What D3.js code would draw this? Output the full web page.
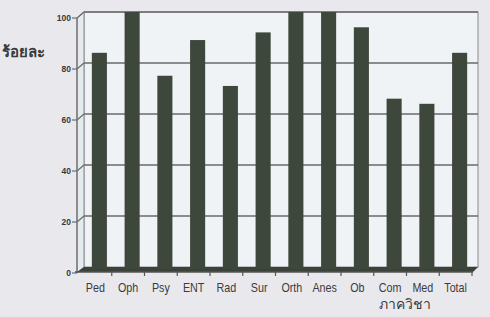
<!DOCTYPE html>
<html>
<head>
<meta charset="utf-8">
<script src="https://cdn.jsdelivr.net/npm/d3@7"></script>
<style>
  body { margin: 0; background: #e9e9ed; }
  svg { display: block; }
</style>
</head>
<body>
<div id="chart"></div>
<script>
var departments = ["Ped", "Oph", "Psy", "ENT", "Rad", "Sur", "Orth", "Anes", "Ob", "Com", "Med", "Total"];
var percents = [84, 100, 75, 89, 71, 92, 100, 100, 94, 66, 64, 84];
var yTicks = [0, 20, 40, 60, 80, 100];
var yTitle = "ร้อยละ";
var xTitle = "ภาควิชา";

var width = 490, height = 317;
// back wall box, and the offset of the front plane
var wall = {left: 84, right: 478, top: 12, bottom: 267};
var dx = -7, dy = 6;

var svg = d3.select("#chart").append("svg")
    .attr("width", width)
    .attr("height", height);

svg.append("rect")
    .attr("width", width).attr("height", height)
    .attr("fill", "#e9e9ed");

var x = d3.scaleBand()
    .domain(departments)
    .range([wall.left - 1, wall.right - 2])
    .paddingInner(0.54)
    .paddingOuter(0.27);

var y = d3.scaleLinear()
    .domain([0, 100])
    .range([wall.bottom, wall.top]);

// back wall
svg.append("rect")
    .attr("x", wall.left).attr("y", wall.top)
    .attr("width", wall.right - wall.left)
    .attr("height", wall.bottom - wall.top)
    .attr("fill", "#eff3f5")
    .attr("stroke", "#8a8a8a")
    .attr("stroke-width", 1);

// left side wall
svg.append("path")
    .attr("d", "M" + (wall.left + dx) + "," + (y(100) + dy) +
        "L" + wall.left + "," + y(100) +
        "L" + wall.left + "," + y(0) +
        "L" + (wall.left + dx) + "," + (y(0) + dy) + "Z")
    .attr("fill", "#e4eaee")
    .attr("stroke", "#8a8a8a")
    .attr("stroke-width", 1);

// gridlines on the back wall and the side wall
var grid = svg.append("g").attr("class", "grid");
yTicks.filter(d => d > 0).forEach(function(t) {
    grid.append("line")
        .attr("x1", wall.left).attr("x2", wall.right)
        .attr("y1", y(t)).attr("y2", y(t))
        .attr("stroke", "#6a6a6a")
        .attr("stroke-width", 1.5);
    grid.append("line")
        .attr("x1", wall.left + dx).attr("x2", wall.left)
        .attr("y1", y(t) + dy).attr("y2", y(t))
        .attr("stroke", "#6a6a6a")
        .attr("stroke-width", 1.2);
});

// floor
svg.append("path")
    .attr("d", "M" + wall.left + "," + y(0) +
        "L" + wall.right + "," + y(0) +
        "L" + (wall.right - 5) + "," + (y(0) + 5) +
        "L" + (wall.left + dx) + "," + (y(0) + 5) + "Z")
    .attr("fill", "#3c4239");

// bars
svg.selectAll(".bar")
    .data(percents)
    .enter().append("rect")
    .attr("class", "bar")
    .attr("x", (d, i) => x(departments[i]))
    .attr("y", d => y(d))
    .attr("width", x.bandwidth())
    .attr("height", d => y(0) - y(d) + 2)
    .attr("fill", "#3d473c");

// front y axis
var axisX = wall.left + dx;
svg.append("line")
    .attr("x1", axisX).attr("x2", axisX)
    .attr("y1", y(100) + dy).attr("y2", y(0) + dy)
    .attr("stroke", "#6e6e6e")
    .attr("stroke-width", 1.2);

var yAxis = svg.append("g").attr("class", "y axis");
yTicks.forEach(function(t) {
    yAxis.append("line")
        .attr("x1", axisX - 5).attr("x2", axisX)
        .attr("y1", y(t) + dy).attr("y2", y(t) + dy)
        .attr("stroke", "#6e6e6e")
        .attr("stroke-width", 1.2);
    yAxis.append("text")
        .attr("x", axisX - 6)
        .attr("y", y(t) + dy + 3)
        .attr("text-anchor", "end")
        .style("font-family", "'Liberation Sans', Arial, sans-serif")
        .style("font-size", "8.5px")
        .style("font-weight", "bold")
        .style("fill", "#3a3a3a")
        .text(t);
});

// front x axis line and ticks
var baseY = y(0) + 5;
svg.append("line")
    .attr("x1", axisX - 2).attr("x2", wall.right - 5)
    .attr("y1", baseY).attr("y2", baseY)
    .attr("stroke", "#555")
    .attr("stroke-width", 1.3);

var boundaries = departments.map(d => x(d) + x.bandwidth() + x.step() * x.paddingInner() / 2);
svg.selectAll(".xtick")
    .data(boundaries)
    .enter().append("line")
    .attr("class", "xtick")
    .attr("x1", d => d - 4).attr("x2", d => d - 4)
    .attr("y1", baseY).attr("y2", baseY + 4)
    .attr("stroke", "#555")
    .attr("stroke-width", 1.2);

// category labels (narrow, like the scanned original)
svg.selectAll(".label")
    .data(departments)
    .enter().append("text")
    .attr("class", "label")
    .attr("transform", d => "translate(" + (x(d) + x.bandwidth() / 2 - 4) + ",292) scale(0.86,1)")
    .attr("text-anchor", "middle")
    .style("font-family", "'Liberation Sans', Arial, sans-serif")
    .style("font-size", "12.5px")
    .style("fill", "#3a3a3a")
    .text(d => d);

// titles
svg.append("text")
    .attr("x", 2)
    .attr("y", 57)
    .style("font-family", "'Noto Sans', sans-serif")
    .style("font-size", "15px")
    .style("font-weight", "bold")
    .style("fill", "#3a3a3a")
    .text(yTitle);

svg.append("text")
    .attr("x", 405)
    .attr("y", 309)
    .attr("text-anchor", "middle")
    .style("font-family", "'Noto Sans', sans-serif")
    .style("font-size", "14px")
    .style("fill", "#3a3a3a")
    .text(xTitle);
</script>
</body>
</html>
